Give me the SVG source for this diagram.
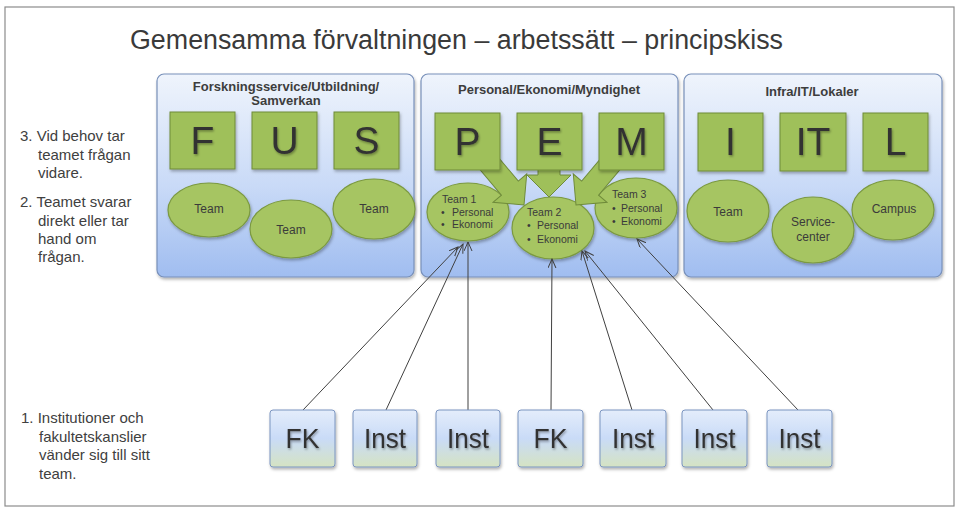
<svg xmlns="http://www.w3.org/2000/svg" width="960" height="511" viewBox="0 0 960 511">
<defs>
<linearGradient id="pg" x1="0" y1="0" x2="0" y2="1">
<stop offset="0" stop-color="#eff4fc"/>
<stop offset="0.55" stop-color="#c9daf7"/>
<stop offset="1" stop-color="#a0bdf0"/>
</linearGradient>
<linearGradient id="bg" x1="0" y1="0" x2="0" y2="1">
<stop offset="0" stop-color="#e4edfb"/>
<stop offset="0.5" stop-color="#c9dbf7"/>
<stop offset="1" stop-color="#d5e3c3"/>
</linearGradient>
<filter id="sh" x="-10%" y="-10%" width="125%" height="130%">
<feDropShadow dx="1" dy="2" stdDeviation="1.5" flood-color="#000" flood-opacity="0.3"/>
</filter>
<filter id="ts" x="-20%" y="-20%" width="150%" height="150%">
<feDropShadow dx="1" dy="1.5" stdDeviation="0.8" flood-color="#000" flood-opacity="0.35"/>
</filter>
<marker id="ah" markerWidth="10" markerHeight="10" refX="9" refY="4" orient="auto" markerUnits="userSpaceOnUse">
<path d="M0,0 L9,4 L0,8" fill="none" stroke="#404040" stroke-width="1"/>
</marker>
<polygon id="arrowE" points="-11,-32 11,-32 11,-22 22,-22 0,0 -22,-22 -11,-22"/>
<polygon id="arrowD" points="-11,-62 11,-62 11,-22 22,-22 0,0 -22,-22 -11,-22"/>
</defs>
<style>
.frame{fill:#fff;stroke:#8c8c8c;stroke-width:1.2}
.title{font-family:"Liberation Sans",Arial,sans-serif;font-size:27px;fill:#3a3a3a}
.panel{fill:url(#pg);stroke:#7890ba;stroke-width:1.2;filter:url(#sh)}
.ptitle{font-family:"Liberation Sans",Arial,sans-serif;font-size:13px;font-weight:bold;fill:#3d3d3d;text-anchor:middle}
.sq{fill:#9fc05a;stroke:#6f8b3a;stroke-width:1;filter:url(#sh)}
.big{font-family:"Liberation Sans",Arial,sans-serif;font-size:39px;fill:#333;text-anchor:middle;filter:url(#ts)}
.el{fill:#a6c562;stroke:#7b9940;stroke-width:1.2;filter:url(#sh)}
.blk{fill:#9fc05a;stroke:#6f8b3a;stroke-width:1}
.lbl{font-family:"Liberation Sans",Arial,sans-serif;font-size:12px;fill:#3b3b3b;text-anchor:middle}
.sm{font-family:"Liberation Sans",Arial,sans-serif;font-size:10.5px;fill:#3b3b3b}
.box{fill:url(#bg);stroke:#7b95c0;stroke-width:1;filter:url(#sh)}
.bt{font-family:"Liberation Sans",Arial,sans-serif;font-size:28px;fill:#333;text-anchor:middle;filter:url(#ts)}
.side{font-family:"Liberation Sans",Arial,sans-serif;font-size:15px;fill:#404040}
.con{stroke:#404040;stroke-width:1;fill:none;marker-end:url(#ah)}
</style>

<rect class="frame" x="5" y="7" width="949" height="499"/>
<text class="title" x="130" y="49" textLength="653" lengthAdjust="spacingAndGlyphs">Gemensamma förvaltningen – arbetssätt – principskiss</text>

<g id="side-notes">
<text class="side" x="20" y="141">3. Vid behov tar</text>
<text class="side" x="38" y="160">teamet frågan</text>
<text class="side" x="38" y="178">vidare.</text>
<text class="side" x="20" y="207">2. Teamet svarar</text>
<text class="side" x="38" y="226">direkt eller tar</text>
<text class="side" x="38" y="244">hand om</text>
<text class="side" x="38" y="262">frågan.</text>
<text class="side" x="21" y="423">1. Institutioner  och</text>
<text class="side" x="39" y="442">fakultetskanslier</text>
<text class="side" x="39" y="460">vänder sig till sitt</text>
<text class="side" x="39" y="479">team.</text>
</g>

<g id="panel-fus">
<rect class="panel" x="157" y="74" width="257" height="203" rx="7"/>
<text class="ptitle" x="286" y="91">Forskningsservice/Utbildning/</text>
<text class="ptitle" x="286" y="105">Samverkan</text>
</g>
<g id="panel-pem">
<rect class="panel" x="421" y="74" width="257" height="203" rx="7"/>
<text class="ptitle" x="549" y="94">Personal/Ekonomi/Myndighet</text>
</g>
<g id="panel-itl">
<rect class="panel" x="684" y="74" width="258" height="203" rx="7"/>
<text class="ptitle" x="812" y="96">Infra/IT/Lokaler</text>
</g>

<g id="team-f1"><ellipse class="el" cx="209" cy="210" rx="41" ry="27"/><text class="lbl" x="209" y="213">Team</text></g>
<g id="team-f2"><ellipse class="el" cx="291" cy="229" rx="41" ry="29"/><text class="lbl" x="291" y="234">Team</text></g>
<g id="team-f3"><ellipse class="el" cx="374" cy="209" rx="41" ry="30"/><text class="lbl" x="374" y="213">Team</text></g>

<g id="team-1"><ellipse class="el" cx="468" cy="212" rx="41" ry="29"/>
<text class="sm" x="442" y="203">Team 1</text>
<text class="sm" x="441" y="216">•</text><text class="sm" x="452" y="216">Personal</text>
<text class="sm" x="441" y="228">•</text><text class="sm" x="452" y="228">Ekonomi</text></g>
<g id="team-2"><ellipse class="el" cx="553" cy="228" rx="41" ry="31"/>
<text class="sm" x="527" y="216">Team 2</text>
<text class="sm" x="527" y="229">•</text><text class="sm" x="537" y="229">Personal</text>
<text class="sm" x="527" y="243">•</text><text class="sm" x="537" y="243">Ekonomi</text></g>
<g id="team-3"><ellipse class="el" cx="636" cy="208" rx="41" ry="30"/>
<text class="sm" x="612" y="198">Team 3</text>
<text class="sm" x="612" y="212">•</text><text class="sm" x="621" y="212">Personal</text>
<text class="sm" x="612" y="225">•</text><text class="sm" x="621" y="225">Ekonomi</text></g>

<g id="team-i"><ellipse class="el" cx="728" cy="211" rx="41" ry="31"/><text class="lbl" x="728" y="216">Team</text></g>
<g id="team-service"><ellipse class="el" cx="813" cy="230" rx="41" ry="33"/><text class="lbl" x="813" y="226">Service-</text><text class="lbl" x="813" y="241">center</text></g>
<g id="team-campus"><ellipse class="el" cx="893" cy="210" rx="41" ry="30"/><text class="lbl" x="894" y="213">Campus</text></g>

<g id="block-arrows">
<use href="#arrowD" class="blk" transform="translate(524,205) rotate(-40)"/>
<use href="#arrowE" class="blk" transform="translate(549,197)"/>
<use href="#arrowD" class="blk" transform="translate(576,205) rotate(40)"/>
</g>

<g id="sq-F"><rect class="sq" x="170" y="112" width="65" height="57"/><text class="big" x="202.5" y="154">F</text></g>
<g id="sq-U"><rect class="sq" x="252" y="112" width="65" height="57"/><text class="big" x="284.5" y="154">U</text></g>
<g id="sq-S"><rect class="sq" x="334" y="112" width="65" height="57"/><text class="big" x="366.5" y="154">S</text></g>
<g id="sq-P"><rect class="sq" x="435" y="113" width="65" height="57"/><text class="big" x="467.5" y="155">P</text></g>
<g id="sq-E"><rect class="sq" x="517" y="113" width="65" height="57"/><text class="big" x="549.5" y="155">E</text></g>
<g id="sq-M"><rect class="sq" x="599" y="113" width="65" height="57"/><text class="big" x="631.5" y="155">M</text></g>
<g id="sq-I"><rect class="sq" x="698" y="113" width="65" height="58"/><text class="big" x="730.5" y="155">I</text></g>
<g id="sq-IT"><rect class="sq" x="780" y="113" width="66" height="58"/><text class="big" x="813" y="155">IT</text></g>
<g id="sq-L"><rect class="sq" x="863" y="113" width="65" height="58"/><text class="big" x="895.5" y="155">L</text></g>

<g id="connectors">
<line class="con" x1="303" y1="410" x2="458" y2="247"/>
<line class="con" x1="386" y1="410" x2="463" y2="244"/>
<line class="con" x1="468" y1="410" x2="468" y2="242"/>
<line class="con" x1="551" y1="410" x2="552" y2="259"/>
<line class="con" x1="632" y1="410" x2="582" y2="251"/>
<line class="con" x1="713" y1="410" x2="585" y2="251"/>
<line class="con" x1="798" y1="410" x2="637" y2="239"/>
</g>

<g id="box-fk1"><rect class="box" x="270" y="410" width="65" height="57" rx="3"/><text class="bt" x="302.5" y="448" textLength="34" lengthAdjust="spacingAndGlyphs">FK</text></g>
<g id="box-inst2"><rect class="box" x="353" y="410" width="64" height="57" rx="3"/><text class="bt" x="385" y="448" textLength="42" lengthAdjust="spacingAndGlyphs">Inst</text></g>
<g id="box-inst3"><rect class="box" x="436" y="410" width="64" height="57" rx="3"/><text class="bt" x="468" y="448" textLength="42" lengthAdjust="spacingAndGlyphs">Inst</text></g>
<g id="box-fk4"><rect class="box" x="518" y="410" width="65" height="57" rx="3"/><text class="bt" x="550.5" y="448" textLength="34" lengthAdjust="spacingAndGlyphs">FK</text></g>
<g id="box-inst5"><rect class="box" x="600" y="410" width="66" height="57" rx="3"/><text class="bt" x="633" y="448" textLength="42" lengthAdjust="spacingAndGlyphs">Inst</text></g>
<g id="box-inst6"><rect class="box" x="682" y="410" width="65" height="57" rx="3"/><text class="bt" x="714.5" y="448" textLength="42" lengthAdjust="spacingAndGlyphs">Inst</text></g>
<g id="box-inst7"><rect class="box" x="767" y="410" width="65" height="57" rx="3"/><text class="bt" x="799.5" y="448" textLength="42" lengthAdjust="spacingAndGlyphs">Inst</text></g>
</svg>
